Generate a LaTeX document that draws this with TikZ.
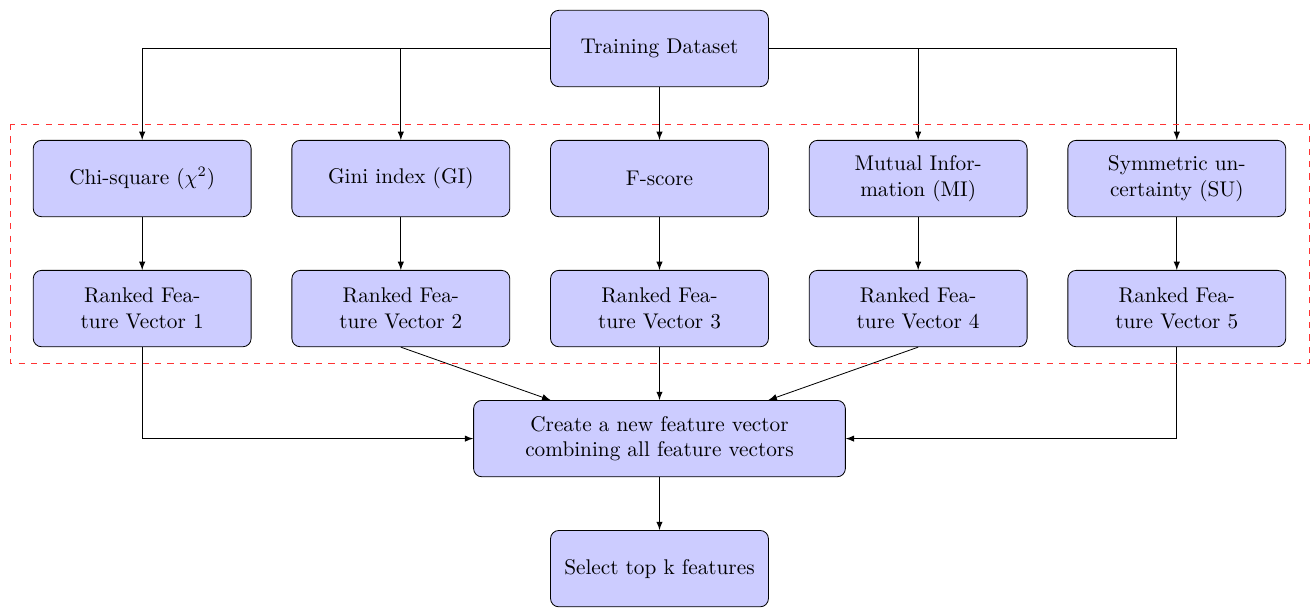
\documentclass[tikz,border=0pt]{standalone}
\usetikzlibrary{positioning,calc}
\tikzset{
    method/.style={rectangle,rounded corners,draw=black,fill=blue!20,text centered,text width=2.55cm,minimum width=3.71cm,minimum height=1.3cm,font=\fontsize{10.3}{12.4}\selectfont},
    source/.style={method,text width=3.3cm},
    wide/.style={method,text width=5.2cm,minimum width=6.33cm},
}

\begin{document}
\begin{tikzpicture}[>=latex,node distance=0.9cm and 0.68cm]
% scoring methods
\node[method] (fscore) {F-score};
\node[method] (gini) [left=of fscore] {Gini index (GI)};
\node[method] (chi) [left=of gini] {Chi-square ($\chi^2$)};
\node[method] (mi) [right=of fscore] {Mutual Information (MI)};
\node[method] (su) [right=of mi] {Symmetric uncertainty (SU)};
\node[source] (train) [above=of fscore] {Training Dataset};
% ranked vectors
\node[method] (rank1) [below=of chi] {Ranked Fea-\\ture Vector 1};
\node[method] (rank2) [below=of gini] {Ranked Fea-\\ture Vector 2};
\node[method] (rank3) [below=of fscore] {Ranked Fea-\\ture Vector 3};
\node[method] (rank4) [below=of mi] {Ranked Fea-\\ture Vector 4};
\node[method] (rank5) [below=of su] {Ranked Fea-\\ture Vector 5};
\node[wide] (combine) [below=of rank3] {Create a new feature vector combining all feature vectors};
\node[source] (select) [below=of combine] {Select top k features};

\draw[->] (train.west) -| (chi);
\draw[->] (train.west) -| (gini);
\draw[->] (train) -- (fscore);
\draw[->] (train.east) -| (mi);
\draw[->] (train.east) -| (su);
\foreach \m/\r in {chi/rank1,gini/rank2,fscore/rank3,mi/rank4,su/rank5}
    \draw[->] (\m) -- (\r);
\draw[->] (rank1) |- (combine);
\draw[->] (rank2.south) -- (combine);
\draw[->] (rank3) -- (combine);
\draw[->] (rank4.south) -- (combine);
\draw[->] (rank5) |- (combine);
\draw[->] (combine) -- (select);

\draw[red!80,dashed] ($(chi.north west)+(-0.39cm,0.27cm)$) rectangle ($(rank5.south east)+(0.39cm,-0.27cm)$);

\pgfresetboundingbox
\useasboundingbox ($(chi.west |- train.north)+(-0.559cm,0.169cm)$) rectangle ($(su.east |- select.south)+(0.491cm,0)$);
\end{tikzpicture}
\end{document}
